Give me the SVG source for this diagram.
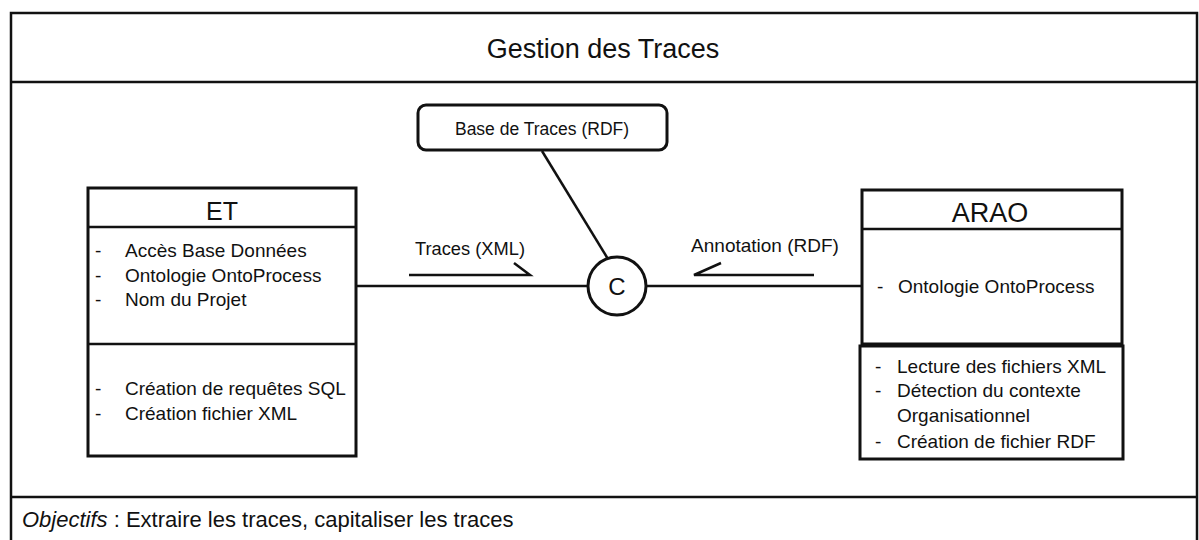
<svg xmlns="http://www.w3.org/2000/svg" width="1199" height="540" viewBox="0 0 1199 540">
<style>
text{font-family:"Liberation Sans",Arial,sans-serif;fill:#111}
.b{fill:#fff;stroke:#111;stroke-width:3}
.l{fill:none;stroke:#111;stroke-width:2.5}
.t{font-size:19px}
.h{text-anchor:middle}
</style>
<rect width="1199" height="540" fill="#fff"/>
<g id="frame">
<path class="l" d="M11,545 V13 H1197 V545" stroke-width="3"/>
<line class="l" x1="11" y1="82" x2="1197" y2="82" stroke-width="3"/>
<line class="l" x1="11" y1="497" x2="1197" y2="497" stroke-width="3"/>
<text x="603" y="58" font-size="27" text-anchor="middle">Gestion des Traces</text>
<text x="22" y="527" font-size="22"><tspan font-style="italic">Objectifs</tspan> : Extraire les traces, capitaliser les traces</text>
</g>
<g id="connectors">
<line class="l" x1="356" y1="286" x2="588" y2="286"/>
<line class="l" x1="646" y1="286" x2="862" y2="286"/>
<line class="l" x1="542" y1="151" x2="608" y2="259"/>
<path class="l" d="M409,275 H530 L514,263" stroke-width="3"/>
<text x="470" y="255" font-size="18.3" text-anchor="middle">Traces (XML)</text>
<path class="l" d="M814,275 H694 L721,263" stroke-width="3"/>
<text x="765" y="252" class="t" text-anchor="middle">Annotation (RDF)</text>
</g>
<g id="base">
<rect class="b" x="418" y="105" width="249" height="45" rx="8"/>
<text x="542" y="135" font-size="17.5" text-anchor="middle">Base de Traces (RDF)</text>
</g>
<g id="c">
<circle class="b" cx="617" cy="286" r="29" stroke-width="2.5"/>
<text x="617" y="295" font-size="24" text-anchor="middle">C</text>
</g>
<g id="et">
<rect class="b" x="88" y="188" width="268" height="268"/>
<line class="l" x1="88" y1="227" x2="356" y2="227" stroke-width="3"/>
<line class="l" x1="88" y1="344" x2="356" y2="344" stroke-width="3"/>
<text x="222" y="220" font-size="25" class="h">ET</text>
<text x="95" y="257" class="t">-</text><text x="125" y="257" class="t">Accès Base Données</text>
<text x="95" y="282" class="t">-</text><text x="125" y="282" class="t">Ontologie OntoProcess</text>
<text x="95" y="306" class="t">-</text><text x="125" y="306" class="t">Nom du Projet</text>
<text x="95" y="395" class="t">-</text><text x="125" y="395" class="t">Création de requêtes SQL</text>
<text x="95" y="420" class="t">-</text><text x="125" y="420" class="t">Création fichier XML</text>
</g>
<g id="arao">
<rect class="b" x="862" y="190" width="260" height="154"/>
<line class="l" x1="862" y1="229" x2="1122" y2="229" stroke-width="3"/>
<text x="990" y="222" font-size="27" class="h">ARAO</text>
<text x="877" y="293" class="t">-</text><text x="898" y="293" class="t">Ontologie OntoProcess</text>
<rect class="b" x="860" y="346" width="263" height="113"/>
<text x="875" y="373" class="t">-</text><text x="897" y="373" class="t">Lecture des fichiers XML</text>
<text x="875" y="397" class="t">-</text><text x="897" y="397" class="t">Détection du contexte</text>
<text x="897" y="422" class="t">Organisationnel</text>
<text x="875" y="448" class="t">-</text><text x="897" y="448" class="t">Création de fichier RDF</text>
</g>
</svg>
